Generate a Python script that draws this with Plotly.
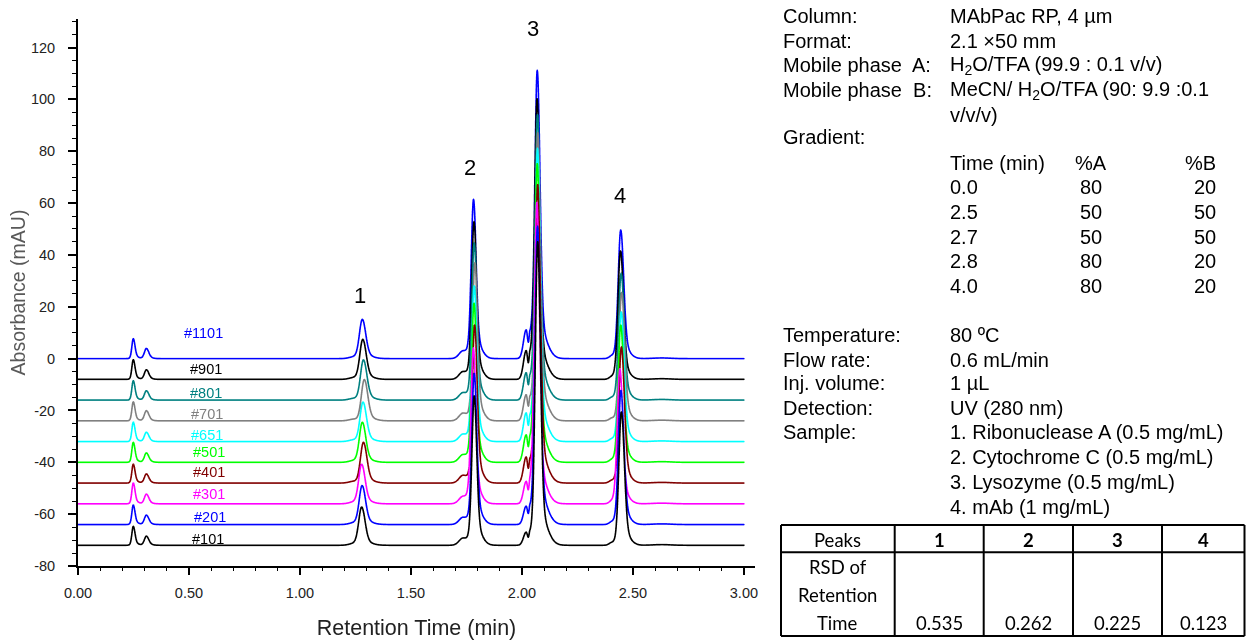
import numpy as np
import plotly.graph_objects as go

W, H = 1246, 640

# ---------------------------------------------------------------- data
# injections, drawn top (first) to bottom (last)
injections = ["#1101", "#901", "#801", "#701", "#651", "#501", "#401", "#301", "#201", "#101"]
trace_colors = ["#0000FF", "#000000", "#008080", "#808080", "#00FFFF",
                "#00FF00", "#800000", "#FF00FF", "#0000FF", "#000000"]
baseline_offsets = [0, -8, -16, -24, -32, -40, -48, -56, -64, -72]   # mAU

# retention times (min) of the main peaks for every injection
rt_void_a = [0.249, 0.249, 0.249, 0.249, 0.249, 0.249, 0.249, 0.249, 0.249, 0.249]
rt_void_b = [0.308, 0.308, 0.308, 0.308, 0.308, 0.308, 0.308, 0.308, 0.308, 0.308]
rt_peak1 = [1.281, 1.283, 1.286, 1.290, 1.284, 1.281, 1.286, 1.278, 1.280, 1.278]
rt_peak2 = [1.782, 1.784, 1.785, 1.788, 1.785, 1.784, 1.787, 1.781, 1.785, 1.785]
rt_peak3 = [2.069, 2.068, 2.070, 2.071, 2.070, 2.069, 2.071, 2.067, 2.070, 2.071]
rt_peak4 = [2.445, 2.444, 2.447, 2.449, 2.447, 2.445, 2.448, 2.441, 2.446, 2.448]

# apex heights above each baseline (mAU)
h_void_a = [7.7, 7.6, 7.5, 7.3, 7.5, 7.7, 7.3, 8.0, 7.5, 7.3]
h_void_b = [3.9, 3.7, 3.6, 3.9, 3.6, 3.6, 3.5, 3.7, 3.6, 3.5]
h_peak1 = [15.1, 15.4, 15.5, 15.9, 15.2, 15.4, 15.7, 15.2, 15.0, 14.7]
h_peak2 = [60.9, 60.4, 60.2, 60.7, 59.7, 60.9, 60.6, 59.6, 57.9, 57.2]
h_peak3 = [111.0, 108.0, 110.0, 111.0, 113.0, 115.0, 115.0, 116.0, 115.0, 117.0]
h_peak4 = [49.6, 49.5, 48.9, 49.5, 50.0, 52.9, 52.5, 52.1, 51.7, 51.4]

# minor features: shoulder before peak 2, doublet in front of peak 3
h_shoulder2 = [3.0, 3.0, 2.9, 3.0, 2.9, 3.0, 3.0, 2.9, 2.8, 2.8]
h_pre3a = [11.0, 11.0, 10.5, 10.0, 11.0, 10.5, 10.0, 8.5, 7.0, 5.0]
h_pre3b = [8.0, 8.0, 7.5, 7.5, 8.0, 7.5, 7.5, 6.5, 5.5, 4.0]
rt_shoulder2 = 1.735
rt_pre1, h_pre1 = 1.240, 0.6
rt_pre3a, rt_pre3b = 2.019, 2.036
rt_pre4, h_pre4 = 2.405, 1.0
rt_late, h_late = 2.630, 0.25

# peak identifiers
peak_ids = ["1", "2", "3", "4"]

# axis ticks
y_tick_vals = [-80, -60, -40, -20, 0, 20, 40, 60, 80, 100, 120]
y_tick_text = ["-80", "-60", "-40", "-20", "0", "20", "40", "60", "80", "100", "120"]
x_tick_vals = [0.0, 0.5, 1.0, 1.5, 2.0, 2.5, 3.0]
x_tick_text = ["0.00", "0.50", "1.00", "1.50", "2.00", "2.50", "3.00"]

# method conditions
conditions_top = [
    ("Column:", "MAbPac RP, 4 µm"),
    ("Format:", "2.1 ×50 mm"),
    ("Mobile phase  A:", "H<sub>2</sub>O/TFA (99.9 : 0.1 v/v)"),
    ("Mobile phase  B:", "MeCN/ H<sub>2</sub>O/TFA (90: 9.9 :0.1"),
    ("", "v/v/v)"),
    ("Gradient:", ""),
]
grad_header = ["Time (min)", "%A", "%B"]
grad_time = ["0.0", "2.5", "2.7", "2.8", "4.0"]
grad_A = [80, 50, 50, 80, 80]
grad_B = [20, 50, 50, 20, 20]
conditions_bottom = [
    ("Temperature:", "80 ºC"),
    ("Flow rate:", "0.6 mL/min"),
    ("Inj. volume:", "1 µL"),
    ("Detection:", "UV (280 nm)"),
    ("Sample:", "1. Ribonuclease A (0.5 mg/mL)"),
    ("", "2. Cytochrome C (0.5 mg/mL)"),
    ("", "3. Lysozyme (0.5 mg/mL)"),
    ("", "4. mAb (1 mg/mL)"),
]

# RSD table
table_header = ["Peaks", "1", "2", "3", "4"]
rsd_row_label = ["RSD of", "Retention", "Time"]
rsd_values = ["0.535", "0.262", "0.225", "0.123"]

# ---------------------------------------------------------------- peak model
# (left width, right width, tail fraction, tail width) in minutes
SHAPE = {
    "void_a": (0.0060, 0.0075, 0.20, 0.018),
    "void_b": (0.0085, 0.0105, 0.20, 0.020),
    "pre1":   (0.0200, 0.0150, 0.00, 0.010),
    "p1":     (0.0130, 0.0150, 0.15, 0.035),
    "sh2":    (0.0180, 0.0250, 0.00, 0.010),
    "p2":     (0.0100, 0.0110, 0.18, 0.028),
    "pre3a":  (0.0120, 0.0070, 0.00, 0.010),
    "pre3b":  (0.0040, 0.0120, 0.00, 0.010),
    "p3":     (0.0105, 0.0120, 0.15, 0.035),
    "pre4":   (0.0120, 0.0120, 0.00, 0.010),
    "p4":     (0.0110, 0.0130, 0.15, 0.030),
    "late":   (0.0400, 0.0400, 0.00, 0.010),
}


def peak(t, tr, h, kind):
    """Bi-Gaussian peak with a tailing component, apex height h at tr."""
    sl, sr, f, tw = SHAPE[kind]
    d = t - tr
    core = np.where(d < 0, np.exp(-0.5 * (d / sl) ** 2), np.exp(-0.5 * (d / sr) ** 2))
    tail = np.where(d < 0, np.exp(-0.5 * (d / (1.5 * sl)) ** 2), np.exp(-0.5 * (d / tw) ** 2))
    return h * (core + f * tail) / (1.0 + f)


t = np.round(np.arange(0.0, 3.0005, 0.001), 3)

fig = go.Figure()
for i, name in enumerate(injections):
    y = np.zeros_like(t)
    y += peak(t, rt_void_a[i], h_void_a[i], "void_a")
    y += peak(t, rt_void_b[i], h_void_b[i], "void_b")
    y += peak(t, rt_pre1, h_pre1, "pre1")
    y += peak(t, rt_peak1[i], h_peak1[i], "p1")
    y += peak(t, rt_shoulder2, h_shoulder2[i], "sh2")
    y += peak(t, rt_peak2[i], h_peak2[i], "p2")
    y += peak(t, rt_pre3a, h_pre3a[i], "pre3a")
    y += peak(t, rt_pre3b, h_pre3b[i], "pre3b")
    y += peak(t, rt_peak3[i], h_peak3[i], "p3")
    y += peak(t, rt_pre4, h_pre4, "pre4")
    y += peak(t, rt_peak4[i], h_peak4[i], "p4")
    y += peak(t, rt_late, h_late, "late")
    y += baseline_offsets[i]
    fig.add_trace(go.Scattergl(x=t, y=y, mode="lines", name=name, showlegend=False,
                               line=dict(color=trace_colors[i], width=1.6),
                               hoverinfo="skip"))

# ---------------------------------------------------------------- annotations
ann = []
LBL_FONT = "Arial, Liberation Sans, sans-serif"
# injection labels (data coordinates)
run_label_pos = [(0.566, 9.9), (0.578, -4.1), (0.578, -13.3), (0.582, -21.5), (0.581, -29.3),
                 (0.589, -36.2), (0.589, -43.6), (0.588, -52.2), (0.593, -61.2), (0.587, -69.7)]
for (lx, ly), name, col in zip(run_label_pos, injections, trace_colors):
    ann.append(dict(x=lx, y=ly, xref="x", yref="y", text=name, showarrow=False,
                    font=dict(size=14.5, color=col, family=LBL_FONT),
                    xanchor="center", yanchor="middle"))

# peak numbers
peak_label_pos = [(1.272, 24.5), (1.768, 73.8), (2.050, 127.5), (2.440, 63.1)]
for (lx, ly), pid in zip(peak_label_pos, peak_ids):
    ann.append(dict(x=lx, y=ly, xref="x", yref="y", text=pid, showarrow=False,
                    font=dict(size=22, color="#000000", family=LBL_FONT),
                    xanchor="center", yanchor="middle"))

TXT = dict(size=20, color="#000000", family=LBL_FONT)


def px(xp, yp, text, anchor="left", font=TXT):
    return dict(x=xp / W, y=1 - yp / H, xref="paper", yref="paper", text=text,
                showarrow=False, xanchor=anchor, yanchor="middle", font=font,
                borderpad=0)


LABEL_X, VALUE_X = 782, 949
top_rows_y = [16, 40.7, 65, 90, 115, 137.3]
for (lab, val), yy in zip(conditions_top, top_rows_y):
    if lab:
        ann.append(px(LABEL_X, yy, lab))
    if val:
        ann.append(px(VALUE_X, yy, val))

grad_rows_y = [187.3, 212, 236.7, 261, 286]
ann.append(px(VALUE_X, 163.3, grad_header[0]))
ann.append(px(1091, 163.3, grad_header[1], "center"))
ann.append(px(1217, 163.3, grad_header[2], "right"))
for tm, a, b, yy in zip(grad_time, grad_A, grad_B, grad_rows_y):
    ann.append(px(VALUE_X, yy, tm))
    ann.append(px(1091, yy, str(a), "center"))
    ann.append(px(1217, yy, str(b), "right"))

bottom_rows_y = [335, 360, 383.3, 408.3, 431.7, 456.7, 481.7, 506.7]
for (lab, val), yy in zip(conditions_bottom, bottom_rows_y):
    if lab:
        ann.append(px(LABEL_X, yy, lab))
    ann.append(px(VALUE_X, yy, val))

# RSD table
TBL = dict(size=18.5, color="#000000", family="Lato, Open Sans, sans-serif")
col_edges = [781, 894.7, 983.7, 1073, 1162, 1244.5]
row_edges = [525, 552.3, 636]
col_centers = [(a + b) / 2 for a, b in zip(col_edges[:-1], col_edges[1:])]
for j, txt in enumerate(table_header):
    ann.append(px(col_centers[j], 539.5, txt if j == 0 else f"<b>{txt}</b>", "center", TBL))
for txt, yy in zip(rsd_row_label, [566.7, 595, 623.3]):
    ann.append(px(col_centers[0], yy, txt, "center", TBL))
for j, val in enumerate(rsd_values):
    ann.append(px(col_centers[j + 1], 623.3, val, "center", TBL))

shapes = []
LINE = dict(color="#000000", width=2)
for xe in col_edges:
    shapes.append(dict(type="line", xref="paper", yref="paper", x0=xe / W, x1=xe / W,
                       y0=1 - row_edges[0] / H, y1=1 - row_edges[-1] / H, line=LINE))
for ye in row_edges:
    shapes.append(dict(type="line", xref="paper", yref="paper", x0=col_edges[0] / W,
                       x1=col_edges[-1] / W, y0=1 - ye / H, y1=1 - ye / H, line=LINE))

# ---------------------------------------------------------------- layout
AX_FONT = dict(size=14.5, color="#222222", family=LBL_FONT)
fig.update_layout(
    width=W, height=H,
    margin=dict(l=0, r=0, t=0, b=0, autoexpand=False),
    paper_bgcolor="white", plot_bgcolor="white",
    annotations=ann, shapes=shapes,
    xaxis=dict(
        domain=[78 / W, 755 / W], range=[0, 3.05], automargin=False,
        tickmode="array", tickvals=x_tick_vals, ticktext=x_tick_text,
        ticks="outside", ticklen=7, tickwidth=1.5, tickcolor="#000000",
        minor=dict(tickmode="linear", tick0=0, dtick=0.1, ticks="outside",
                   ticklen=3, tickwidth=1.2, tickcolor="#000000", showgrid=False),
        showline=True, linecolor="#000000", linewidth=1.8,
        showgrid=False, zeroline=False, tickfont=AX_FONT, ticklabelstandoff=6,
        title=dict(text="Retention Time (min)", standoff=20,
                   font=dict(size=21.5, color="#222222", family=LBL_FONT)),
    ),
    yaxis=dict(
        domain=[74 / H, 621 / H], range=[-80, 131], automargin=False,
        tickmode="array", tickvals=y_tick_vals, ticktext=y_tick_text,
        ticks="outside", ticklen=8, tickwidth=1.5, tickcolor="#000000",
        minor=dict(tickmode="linear", tick0=0, dtick=5, ticks="outside",
                   ticklen=4, tickwidth=1.2, tickcolor="#000000", showgrid=False),
        showline=True, linecolor="#000000", linewidth=1.8,
        showgrid=False, zeroline=False, tickfont=AX_FONT, ticklabelstandoff=10,
        title=dict(text="Absorbance (mAU)", standoff=0,
                   font=dict(size=19.5, color="#595959", family=LBL_FONT)),
    ),
)

fig.write_html("out.html")
